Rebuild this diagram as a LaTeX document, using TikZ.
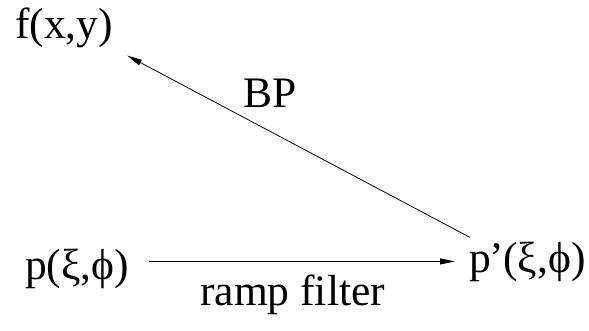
\documentclass[tikz,border=0pt]{standalone}
\usepackage{fontspec}
\setmainfont{Liberation Serif}
\usepackage{tikz}
\usetikzlibrary{positioning,arrows.meta,calc}

\begin{document}
\begin{tikzpicture}[x=1pt,y=-1pt,
    lbl/.style={anchor=base west, inner sep=0pt, font=\rmfamily\fontsize{43.5}{50}\selectfont},
    arr/.style={-{Triangle[length=15pt,width=6pt]}, line width=0.8pt}]
  \useasboundingbox (0,0) rectangle (589,330);

  \node[lbl] (fxy) at (15,38) {f(x,y)};
  \node[lbl] (pin) at (25,279) {p(ξ,ϕ)};
  \node[lbl] (pout) at (469,272) {p\kern-1pt’\kern-1pt(ξ,ϕ)};

  \draw[arr] ([shift={(20,-7)}]pin.east) -- ($(pout.west |- pin.east)+(-14,-7)$);
  \node[lbl] (ramp) at (200,305) {ramp filter};

  \draw[arr] ([shift={(1,-4)}]pout.north west) -- ([shift={(14,8)}]fxy.south east);
  \node[lbl] (bp) at (243,107) {BP};
\end{tikzpicture}
\end{document}
